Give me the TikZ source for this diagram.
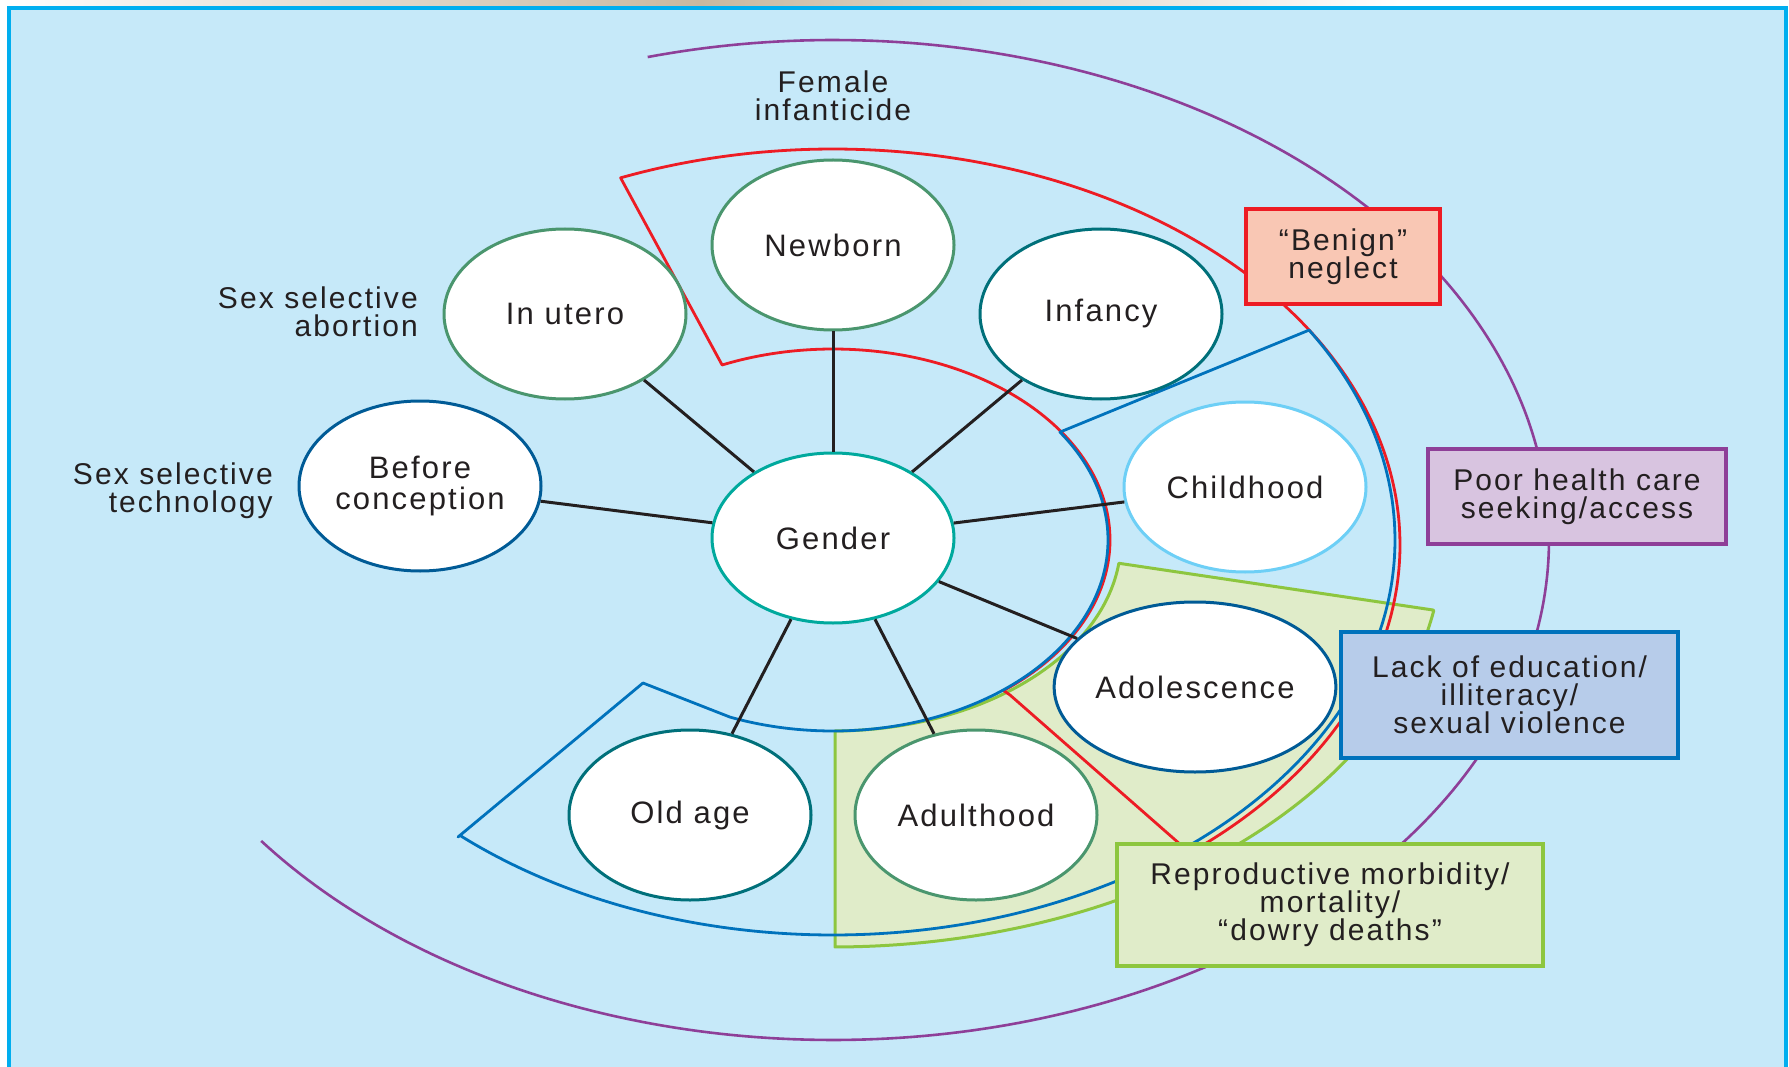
\documentclass[tikz,border=0pt]{standalone}
\usepackage{fontspec}
\usetikzlibrary{shapes.geometric}

\newfontfamily\diagfont[LetterSpace=7]{Liberation Sans}
\newcommand\diagstagefont{\diagfont\fontsize{31}{31}\selectfont}
\newcommand\diagnotefont{\diagfont\fontsize{30}{28}\selectfont}

\definecolor{panel}{RGB}{198,233,249}
\definecolor{frameCyan}{RGB}{0,174,239}
\definecolor{ink}{RGB}{35,31,32}
\definecolor{stageGreen}{RGB}{74,150,110}
\definecolor{stageTeal}{RGB}{0,112,122}
\definecolor{stageNavy}{RGB}{0,91,150}
\definecolor{stageAqua}{RGB}{0,169,157}
\definecolor{stageSky}{RGB}{109,207,246}
\definecolor{zoneRed}{RGB}{237,28,36}
\definecolor{zoneBlue}{RGB}{0,114,188}
\definecolor{zonePurple}{RGB}{142,63,152}
\definecolor{zoneLime}{RGB}{141,198,63}
\definecolor{limeFill}{RGB}{224,236,201}
\definecolor{salmonFill}{RGB}{249,199,180}
\definecolor{lilacFill}{RGB}{216,196,224}
\definecolor{steelFill}{RGB}{183,204,234}
\definecolor{stripTan}{RGB}{200,184,160}

\tikzset{
  stage/.style={ellipse, draw=#1, fill=white, line width=3pt,
    minimum width=242pt, minimum height=170pt, inner sep=0pt,
    align=center, font=\diagstagefont, text=ink},
  link/.style={draw=ink, line width=3pt},
  infobox/.style={rectangle, draw=#1, line width=4pt, inner sep=0pt,
    align=center, font=\diagnotefont, text=ink},
  sidenote/.style={align=right, font=\diagnotefont, text=ink, inner sep=0pt},
  zone/.style={line width=2.8pt, line join=round},
}

\begin{document}
\begin{tikzpicture}[x=1pt, y=-1pt]
  \useasboundingbox (0,0) rectangle (1789,1067);
  \fill[white] (0,0) rectangle (1789,1067);

  % strip of the page above the panel
  \shade[left color=white, right color=stripTan] (0,0) rectangle (700,6);
  \shade[left color=stripTan, right color=white] (700,0) rectangle (1400,6);

  % panel
  \fill[panel] (9,8) rectangle (1786,1067);
  \draw[frameCyan, line width=4.5pt] (9,1067) -- (9,8) -- (1786,8) -- (1786,1067);

  % green zone: adolescence / adulthood
  \filldraw[fill=limeFill, draw=zoneLime, line width=3pt, line join=round]
    (835,947) -- (835,731)
    -- plot[domain=-89.6:-7, samples=80, variable=\t]
         ({833+288*cos(\t)}, {540-191*sin(\t)})
    -- (1433,610)
    -- plot[domain=-10:-89.8, samples=100, variable=\t]
         ({833+610*cos(\t)}, {540-407*sin(\t)})
    -- cycle;

  % purple outer arc
  \draw[zonePurple, line width=2.6pt]
    plot[domain=105:-143, samples=260, variable=\t]
      ({833+716*cos(\t)}, {540-500*sin(\t)});

  % red zone: newborn to reproductive years
  \draw[zone, zoneRed]
    plot[domain=112:-51, samples=200, variable=\t]
      ({833+567*cos(\t)}, {545-396*sin(\t)})
    -- (1010,695)
    -- plot[domain=-52:113.6, samples=160, variable=\t]
      ({833+277*cos(\t)}, {540-191*sin(\t)})
    -- cycle;

  % blue zone: infancy to old age
  \draw[zone, zoneBlue]
    plot[domain=34.4:-112, samples=160, variable=\t]
      ({833+275*cos(\t)}, {540-191*sin(\t)})
    -- (643,683) -- (458,837)
    -- plot[domain=-131.6:32.1, samples=220, variable=\t]
      ({833+562*cos(\t)}, {540-395*sin(\t)})
    -- cycle;

  % life stages
  \node[stage=stageAqua]  (gender)      at (833,538) {Gender};
  \node[stage=stageNavy]  (before)      at (420,486) {Before\\conception};
  \node[stage=stageGreen] (utero)       at (565,314) {In utero};
  \node[stage=stageGreen] (newborn)     at (833,245) {Newborn};
  \node[stage=stageTeal]  (infancy)     at (1101,314) {Infancy};
  \node[stage=stageSky]   (childhood)   at (1245,487) {Childhood};
  \node[stage=stageNavy]  (adolescence) at (1195,687) {Adolescence};
  \node[stage=stageGreen] (adulthood)   at (976,815) {Adulthood};
  \node[stage=stageTeal]  (oldage)      at (690,815) {Old age};

  % spokes from gender
  \foreach \s in {before,utero,newborn,infancy,childhood,adolescence,adulthood,oldage}
    \draw[link] (gender) -- (\s);

  % risk boxes
  \node[infobox=zoneRed, fill=salmonFill, minimum width=194pt, minimum height=95pt]
    (neglect) at (1343,256.5) {“Benign”\\neglect};
  \node[infobox=zonePurple, fill=lilacFill, minimum width=298pt, minimum height=95pt]
    (access) at (1577,496.5) {Poor health care\\seeking/access};
  \node[infobox=zoneBlue, fill=steelFill, minimum width=337pt, minimum height=126pt]
    (education) at (1509.5,695) {Lack of education/\\illiteracy/\\sexual violence};
  \node[infobox=zoneLime, fill=limeFill, line width=3.5pt, minimum width=426pt, minimum height=122pt]
    (morbidity) at (1330,905) {Reproductive morbidity/\\mortality/\\“dowry deaths”};

  % free labels
  \node[sidenote, align=center] (infanticide) at (833,96) {Female\\infanticide};
  \node[sidenote, anchor=east] (abortion) at (418,312) {Sex selective\\abortion};
  \node[sidenote, anchor=east] (technology) at (273,491) {Sex selective\\technology};
\end{tikzpicture}
\end{document}
